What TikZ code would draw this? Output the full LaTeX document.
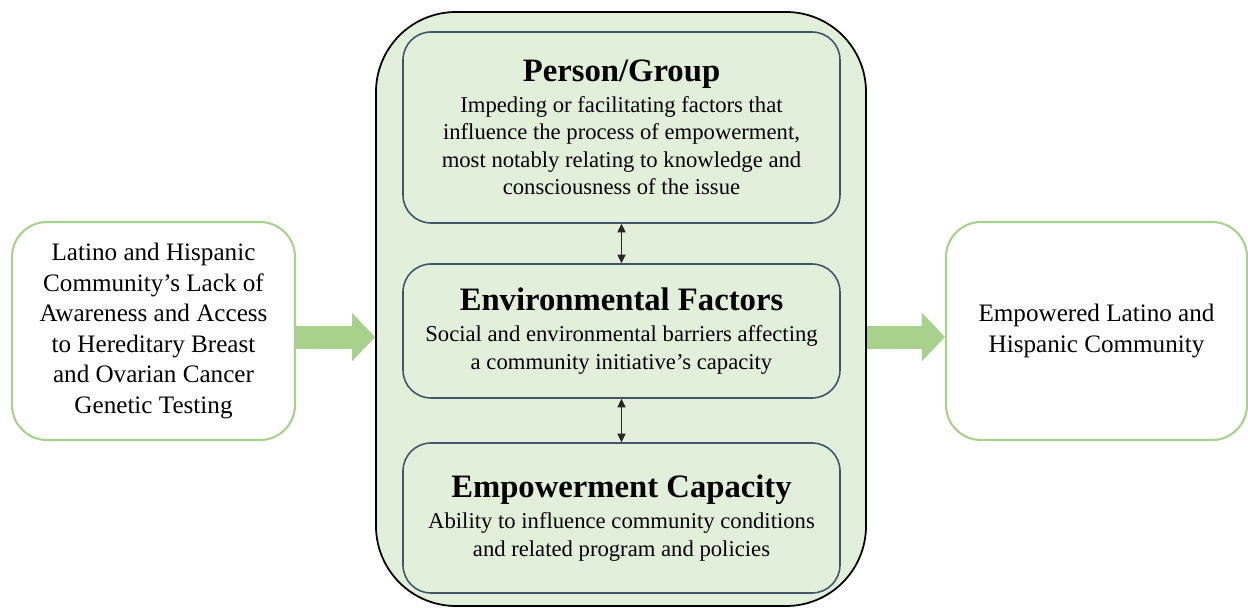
\documentclass[tikz,border=0pt]{standalone}
\usepackage{fontspec}
\setmainfont{Liberation Serif}
\usetikzlibrary{arrows.meta, positioning}
\definecolor{softgreen}{HTML}{A9D18E}
\definecolor{panelgreen}{HTML}{E2EFDA}
\definecolor{slate}{HTML}{44546A}
\newcommand{\boxtitle}[1]{{\fontsize{18.6}{22}\selectfont\bfseries #1}}

\begin{document}
\begin{tikzpicture}[
    side/.style={draw=softgreen, line width=1.2pt, rounded corners=0.7cm, fill=white, minimum width=#1, minimum height=4.36cm, align=center, font=\fontsize{14.3}{17.4}\selectfont},
    factor/.style={draw=slate, line width=0.9pt, rounded corners=0.56cm, fill=panelgreen, minimum width=8.74cm, minimum height=#1, align=center, font=\fontsize{12.9}{15.6}\selectfont},
    flow/.style={softgreen, line width=0.46cm, -{Triangle[length=0.46cm, width=0.94cm]}},
    link/.style={black!85, line width=0.6pt, {Triangle[length=1.7mm, width=1.6mm]}-{Triangle[length=1.7mm, width=1.6mm]}},
]
\useasboundingbox (0,0) rectangle (24.96,12.14);
% Starting point
\node[side=5.66cm] (lack) at (3.07,5.52) {Latino and Hispanic\\Community’s Lack of\\Awareness and Access\\to Hereditary Breast\\and Ovarian Cancer\\Genetic Testing};
% Empowerment frame
\node[draw, line width=1pt, rounded corners=1.6cm, fill=panelgreen, minimum width=9.8cm, minimum height=11.88cm] (frame) at (12.42,5.96) {};
\node[factor=3.82cm] (pg) at (12.43,9.59) {\boxtitle{Person/Group}\\[2pt]
    Impeding or facilitating factors that\\influence the process of empowerment,\\most notably relating to knowledge and\\consciousness of the issue};
\node[factor=2.68cm] (ef) at (12.43,5.52) {\boxtitle{Environmental Factors}\\[2pt]
    Social and environmental barriers affecting\\a community initiative’s capacity};
\node[factor=3.0cm] (ec) at (12.43,1.78) {\boxtitle{Empowerment Capacity}\\[2pt]
    Ability to influence community conditions\\and related program and policies};
% Outcome
\node[side=6.02cm] (emp) at (21.93,5.52) {Empowered Latino and\\Hispanic Community};
% Arrows
\coordinate (a1) at ([yshift=-0.12cm]lack.east);
\coordinate (a2) at (a1 -| frame.east);
\draw[flow] (a1) -- (a1 -| frame.west);
\draw[flow] (a2) -- (a2 -| emp.west);
\draw[link] (pg.south) -- (ef.north);
\draw[link] (ef.south) -- (ec.north);
\end{tikzpicture}
\end{document}
